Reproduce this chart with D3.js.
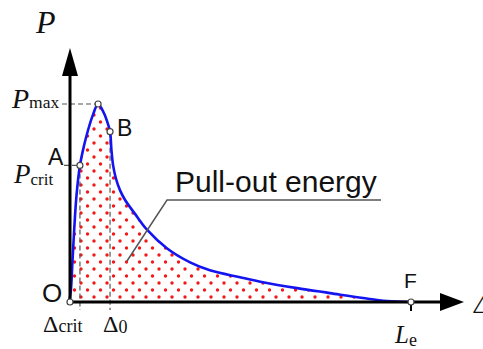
<!DOCTYPE html>
<html>
<head>
<meta charset="utf-8">
<script src="https://cdn.jsdelivr.net/npm/d3@7"></script>
<style>
  html, body { margin: 0; padding: 0; background: #fff; }
  svg { display: block; }
  .serif { font-family: "Liberation Serif", "Times New Roman", serif; fill: #111; }
  .sans { font-family: "Liberation Sans", Arial, sans-serif; fill: #111; }
</style>
</head>
<body>
<svg id="chart" width="483" height="349"></svg>
<script>
// Load–slip curve of a fibre pull-out test (normalised units)
const slip = [0, 0.5, 1.0, 1.5, 2.2, 3.2, 4.4, 5.6, 7.0, 8.5, 9.9, 11.1, 12.0, 12.4, 12.9, 13.7, 14.9, 16.4, 19.3, 22.8, 28.7, 35.4, 41.2, 50.0, 56.7, 66.7, 76.3, 86.0, 93.0, 100];
const load = [0, 0.05, 0.2, 0.36, 0.54, 0.69, 0.79, 0.87, 0.945, 1.0, 0.965, 0.915, 0.86, 0.77, 0.69, 0.625, 0.565, 0.515, 0.445, 0.365, 0.27, 0.2, 0.16, 0.125, 0.1, 0.07, 0.045, 0.02, 0.005, 0];

// Characteristic points on the curve
const pointNames = ["O", "A", "Pmax", "B", "F"];
const pointSlip  = [0, 3.2, 8.5, 12.0, 100];
const pointLoad  = [0, 0.69, 1.0, 0.86, 0];

const svg = d3.select("#chart");
const x = d3.scaleLinear().domain([0, 100]).range([69, 411]);
const y = d3.scaleLinear().domain([0, 1]).range([302, 104]);

const curve = slip.map((s, i) => [s, load[i]]);
const pts = pointNames.map((n, i) => ({ name: n, s: pointSlip[i], p: pointLoad[i] }));
const pt = n => pts.find(d => d.name === n);
const smooth = d3.curveCatmullRom.alpha(0.5);

// Dotted fill pattern for the pull-out energy area
const defs = svg.append("defs");
const pat = defs.append("pattern")
  .attr("id", "dots").attr("patternUnits", "userSpaceOnUse")
  .attr("width", 13).attr("height", 14);
pat.append("circle").attr("cx", 3).attr("cy", 3).attr("r", 1.7).attr("fill", "#f21818");
pat.append("circle").attr("cx", 9.5).attr("cy", 10).attr("r", 1.7).attr("fill", "#f21818");

svg.append("path")
  .datum(curve)
  .attr("d", d3.area().x(d => x(d[0])).y0(y(0)).y1(d => y(Math.max(0, d[1]))).curve(smooth))
  .attr("fill", "url(#dots)");

// Dashed guide lines
const guide = g => g.attr("stroke", "#555").attr("stroke-width", 1.2).attr("stroke-dasharray", "5,3").attr("fill", "none");
const A = pt("A"), B = pt("B"), M = pt("Pmax"), F = pt("F");
svg.append("line").call(guide).attr("x1", x(0) - 7).attr("x2", x(M.s)).attr("y1", y(M.p)).attr("y2", y(M.p));
svg.append("line").call(guide).attr("x1", x(0) - 5).attr("x2", x(A.s)).attr("y1", y(A.p)).attr("y2", y(A.p));
svg.append("line").call(guide).attr("x1", x(A.s)).attr("x2", x(A.s)).attr("y1", y(A.p)).attr("y2", y(0) + 8);
svg.append("line").call(guide).attr("x1", x(B.s)).attr("x2", x(B.s)).attr("y1", y(B.p)).attr("y2", y(0) + 8);

// The load–slip curve
svg.append("path")
  .datum(curve)
  .attr("d", d3.line().x(d => x(d[0])).y(d => y(d[1])).curve(smooth))
  .attr("fill", "none").attr("stroke", "#1414f0").attr("stroke-width", 2.6);

// Axes with arrowheads
const ox = x(0) + 1, oy = y(0);
svg.append("line").attr("x1", ox).attr("x2", ox).attr("y1", oy + 2).attr("y2", 74)
  .attr("stroke", "#000").attr("stroke-width", 3);
svg.append("path").attr("d", `M${ox},48 L${ox - 8},76 L${ox + 8},76 Z`).attr("fill", "#000");
svg.append("line").attr("x1", ox - 2).attr("x2", 442).attr("y1", oy).attr("y2", oy)
  .attr("stroke", "#000").attr("stroke-width", 3);
svg.append("path").attr("d", `M464,${oy} L440,${oy - 9} L440,${oy + 9} Z`).attr("fill", "#000");

// Tick at the embedded length
svg.append("line").attr("x1", x(F.s)).attr("x2", x(F.s)).attr("y1", oy).attr("y2", oy + 9)
  .attr("stroke", "#000").attr("stroke-width", 2);

// Marker circles
svg.selectAll("circle.pt").data(pts).join("circle")
  .attr("class", "pt")
  .attr("cx", d => d.name === "O" ? ox : x(d.s)).attr("cy", d => y(d.p))
  .attr("r", 3).attr("fill", "#fff").attr("stroke", "#444").attr("stroke-width", 1.2);

// Annotation for the shaded area
const leader = [[127, 261], [167, 200], [381, 200]];
svg.append("path").attr("d", d3.line()(leader)).attr("fill", "none").attr("stroke", "#555").attr("stroke-width", 1.5);
svg.append("text").attr("class", "sans").attr("x", 175).attr("y", 192).attr("font-size", 30).attr("fill", "#222").text("Pull-out energy");

// Labels
function sub(xp, yp, main, subText, mainSize, subSize, italic, subDy) {
  const t = svg.append("text").attr("class", "serif").attr("x", xp).attr("y", yp);
  t.append("tspan").attr("font-size", mainSize).attr("font-style", italic ? "italic" : "normal").text(main);
  t.append("tspan").attr("font-size", subSize).attr("dy", subDy).text(subText);
  return t;
}
svg.append("text").attr("class", "serif").attr("x", 36).attr("y", 33).attr("font-size", 32).attr("font-style", "italic").text("P");
sub(12, 108, "P", "max", 28, 17.5, true, 0);
sub(14, 183, "P", "crit", 27, 17, true, 2);
sub(43, 332, "\u0394", "crit", 24, 18, false, 0);
sub(103, 332, "\u0394", "0", 24, 18, false, 1);
sub(395, 343, "L", "e", 25, 18, true, 3);
svg.append("text").attr("class", "serif").attr("x", 474).attr("y", 313).attr("font-size", 26).attr("font-style", "italic").text("\u0394");

svg.append("text").attr("class", "sans").attr("x", 48).attr("y", 165).attr("font-size", 23).text("A");
svg.append("text").attr("class", "sans").attr("x", 117).attr("y", 136).attr("font-size", 23).text("B");
svg.append("text").attr("class", "sans").attr("x", 42).attr("y", 302).attr("font-size", 26).text("O");
svg.append("text").attr("class", "sans").attr("x", 404).attr("y", 288).attr("font-size", 21).text("F");
</script>
</body>
</html>
